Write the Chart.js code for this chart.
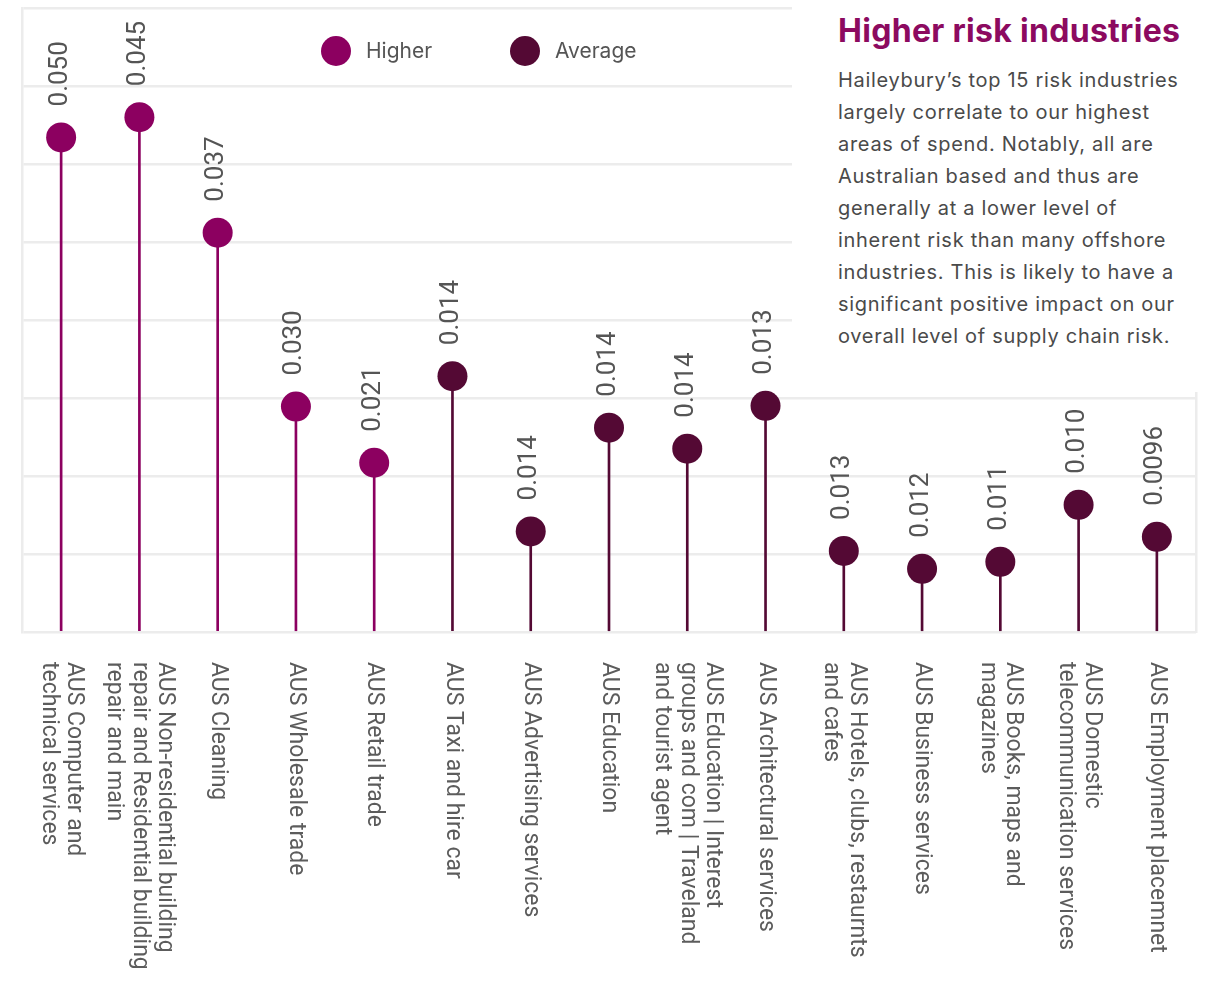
<!DOCTYPE html>
<html>
<head>
<meta charset="utf-8">
<script src="https://cdn.jsdelivr.net/npm/chart.js@4.4.0/dist/chart.umd.min.js"></script>
<style>
  html, body { margin: 0; padding: 0; background: #fff; }
  #wrap { position: relative; width: 1220px; height: 981px; }
  #panel {
    position: absolute; left: 792px; top: 0; width: 428px; height: 392px;
    background: #fff; box-sizing: border-box; padding: 11px 0 0 46px;
    font-family: Inter, "Open Sans", sans-serif; white-space: nowrap;
  }
  #panel h2 { margin: 0; font-size: 32px; font-weight: 700; color: #8c0a60; line-height: 40px; letter-spacing: 0.3px; }
  #panel p { margin: 13px 0 0; font-size: 20px; line-height: 32px; color: #4a4a4a; letter-spacing: 0.7px; }
</style>
</head>
<body>
<div id="wrap">
  <canvas id="chart" width="1220" height="981"></canvas>
  <div id="panel">
    <h2>Higher risk industries</h2>
    <p>Haileybury’s top 15 risk industries<br>largely correlate to our highest<br>areas of spend. Notably, all are<br>Australian based and thus are<br>generally at a lower level of<br>inherent risk than many offshore<br>industries. This is likely to have a<br>significant positive impact on our<br>overall level of supply chain risk.</p>
  </div>
</div>
<script>
// categories, one array per tick (lines of the label)
const industries = [
    ['AUS Computer and', 'technical services'],
    ['AUS Non-residential building', 'repair and Residential building', 'repair and main'],
    ['AUS Cleaning'],
    ['AUS Wholesale trade'],
    ['AUS Retail trade'],
    ['AUS Taxi and hire car'],
    ['AUS Advertising services'],
    ['AUS Education'],
    ['AUS Education | Interest', 'groups and com | Traveland', 'and tourist agent'],
    ['AUS Architectural services'],
    ['AUS Hotels, clubs, restaurnts', 'and cafes'],
    ['AUS Business services'],
    ['AUS Books, maps and', 'magazines'],
    ['AUS Domestic', 'telecommunication services'],
    ['AUS Employment placemnet']
]
const riskLevel = ['Higher', 'Higher', 'Higher', 'Higher', 'Higher',
    'Average', 'Average', 'Average', 'Average', 'Average',
    'Average', 'Average', 'Average', 'Average', 'Average']
// height of each lollipop (no axis labels in the original)
const heights = [6.34, 6.60, 5.12, 2.89, 2.17, 3.28, 1.29, 2.62, 2.35, 2.90, 1.04, 0.81, 0.90, 1.63, 1.22]
// value printed above each dot
const valueLabels = ['0.050', '0.045', '0.037', '0.030', '0.021', '0.014', '0.014', '0.014',
    '0.014', '0.013', '0.013', '0.012', '0.011', '0.010', '0.0096']

const levels = ['Higher', 'Average']
const colors = {Higher: '#8c0060', Average: '#540934'}
const gridColor = '#ececec'

const pick = (lvl) => heights.map((h, i) => riskLevel[i] === lvl ? h : null)

const datasets = []
levels.forEach(lvl => {
    datasets.push({
        type: 'line',
        label: lvl,
        data: pick(lvl),
        showLine: false,
        pointRadius: 15,
        pointHoverRadius: 15,
        pointBorderWidth: 0,
        pointBackgroundColor: colors[lvl],
        backgroundColor: colors[lvl],
        order: 0
    })
    datasets.push({
        type: 'bar',
        label: lvl + ' stem',
        data: pick(lvl),
        backgroundColor: colors[lvl],
        barThickness: 2,
        grouped: false,
        order: 1
    })
})

const labelsPlugin = {
    id: 'labelsPlugin',
    afterDraw(chart) {
        const ctx = chart.ctx
        const xs = chart.scales.x
        const ys = chart.scales.y
        const bottom = chart.chartArea.bottom

        // value labels, rotated, above each dot
        ctx.save()
        ctx.fillStyle = '#555'
        ctx.font = '26px Roboto'
        ctx.textAlign = 'left'
        ctx.textBaseline = 'middle'
        valueLabels.forEach((t, i) => {
            const x = xs.getPixelForValue(i)
            const y = ys.getPixelForValue(heights[i])
            ctx.save()
            ctx.translate(x - 1, y - 31)
            ctx.rotate(-Math.PI / 2)
            ctx.fillText(t, 0, 0)
            ctx.restore()
        })

        // category labels, reading downwards
        ctx.fillStyle = '#5c5c5c'
        ctx.font = '23px Roboto'
        industries.forEach((lines, i) => {
            const x = xs.getPixelForValue(i)
            ctx.save()
            ctx.translate(x, bottom + 30)
            ctx.rotate(Math.PI / 2)
            lines.forEach((l, j) => {
                ctx.fillText(l, 0, (j - (lines.length - 1) / 2) * 25.5)
            })
            ctx.restore()
        })

        // legend inside the plot
        ctx.fillStyle = '#555'
        ctx.font = '21px Inter'
        const legendX = [336, 525]
        levels.forEach((lvl, k) => {
            ctx.fillStyle = colors[lvl]
            ctx.beginPath()
            ctx.arc(legendX[k], 51, 15, 0, Math.PI * 2)
            ctx.fill()
            ctx.fillStyle = '#555'
            ctx.fillText(lvl, legendX[k] + 30, 52)
        })
        ctx.restore()
    }
}

new Chart(document.getElementById('chart'), {
    data: {
        labels: industries,
        datasets: datasets
    },
    options: {
        responsive: false,
        animation: false,
        layout: {autoPadding: false, padding: {left: 22, right: 24, top: 8, bottom: 349}},
        plugins: {
            legend: {display: false},
            tooltip: {enabled: false}
        },
        scales: {
            x: {
                offset: true,
                ticks: {display: false},
                grid: {display: false, drawTicks: false},
                border: {display: false},
                afterFit: (s) => { s.height = 0 }
            },
            y: {
                min: 0,
                max: 8,
                ticks: {display: false, stepSize: 1},
                grid: {color: gridColor, lineWidth: 2.5, drawTicks: false},
                border: {display: true, color: gridColor, width: 2.5},
                afterFit: (s) => { s.width = 0 }
            },
            y2: {
                position: 'right',
                min: 0,
                max: 8,
                ticks: {display: false},
                grid: {drawOnChartArea: false, drawTicks: false},
                border: {display: true, color: gridColor, width: 2.5},
                afterFit: (s) => { s.width = 0 }
            }
        }
    },
    plugins: [labelsPlugin]
})
</script>
</body>
</html>
